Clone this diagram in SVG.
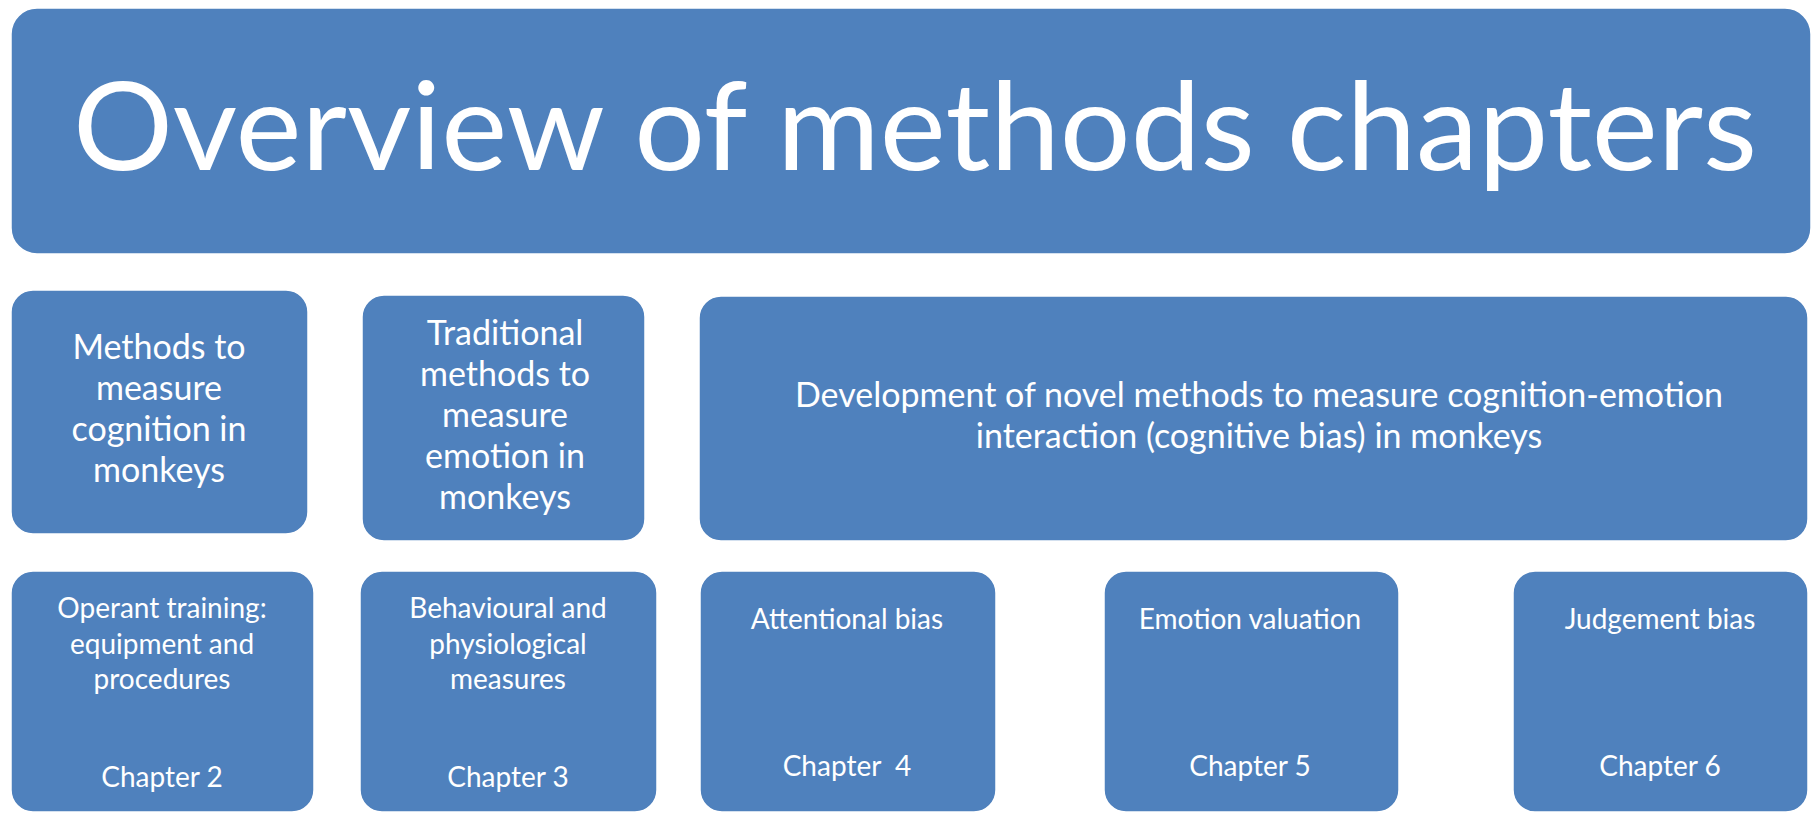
<svg xmlns="http://www.w3.org/2000/svg" width="1811" height="813" viewBox="0 0 1811 813">
<style>
.box{fill:#4F81BD;stroke:#ffffff;stroke-width:1.5}
.t{fill:#ffffff;font-family:Lato,"Open Sans","Liberation Sans",sans-serif;text-anchor:middle}
.title{font-size:123px}
.m{font-size:34px}
.s{font-size:28px}
</style>
<rect width="1811" height="813" fill="#ffffff"/>
<g id="title">
<rect class="box" x="11" y="8" width="1800" height="246" rx="26"/>
<text class="t title" x="915" y="170" textLength="1684" lengthAdjust="spacingAndGlyphs">Overview of methods chapters</text>
</g>
<g id="cognition">
<rect class="box" x="11" y="290" width="297" height="244" rx="22"/>
<text class="t m" x="159" y="359">Methods to</text>
<text class="t m" x="159" y="400">measure</text>
<text class="t m" x="159" y="441">cognition in</text>
<text class="t m" x="159" y="482">monkeys</text>
</g>
<g id="emotion">
<rect class="box" x="362" y="295" width="283" height="246" rx="22"/>
<text class="t m" x="505" y="345">Traditional</text>
<text class="t m" x="505" y="386">methods to</text>
<text class="t m" x="505" y="427">measure</text>
<text class="t m" x="505" y="468">emotion in</text>
<text class="t m" x="505" y="509">monkeys</text>
</g>
<g id="novel">
<rect class="box" x="699" y="296" width="1109" height="245" rx="22"/>
<text class="t m" x="1259" y="407">Development of novel methods to measure cognition-emotion</text>
<text class="t m" x="1259" y="448">interaction (cognitive bias) in monkeys</text>
</g>
<g id="ch2">
<rect class="box" x="11" y="571" width="303" height="241" rx="22"/>
<text class="t s" x="162" y="618">Operant training:</text>
<text class="t s" x="162" y="654">equipment and</text>
<text class="t s" x="162" y="689">procedures</text>
<text class="t s" x="162" y="787">Chapter 2</text>
</g>
<g id="ch3">
<rect class="box" x="360" y="571" width="297" height="241" rx="22"/>
<text class="t s" x="508" y="618">Behavioural and</text>
<text class="t s" x="508" y="654">physiological</text>
<text class="t s" x="508" y="689">measures</text>
<text class="t s" x="508" y="787">Chapter 3</text>
</g>
<g id="ch4">
<rect class="box" x="700" y="571" width="296" height="241" rx="22"/>
<text class="t s" x="847" y="629">Attentional bias</text>
<text class="t s" x="847" y="776" xml:space="preserve">Chapter  4</text>
</g>
<g id="ch5">
<rect class="box" x="1104" y="571" width="295" height="241" rx="22"/>
<text class="t s" x="1250" y="629">Emotion valuation</text>
<text class="t s" x="1250" y="776">Chapter 5</text>
</g>
<g id="ch6">
<rect class="box" x="1513" y="571" width="295" height="241" rx="22"/>
<text class="t s" x="1660" y="629">Judgement bias</text>
<text class="t s" x="1660" y="776">Chapter 6</text>
</g>
<g id="connectors"/>
</svg>
